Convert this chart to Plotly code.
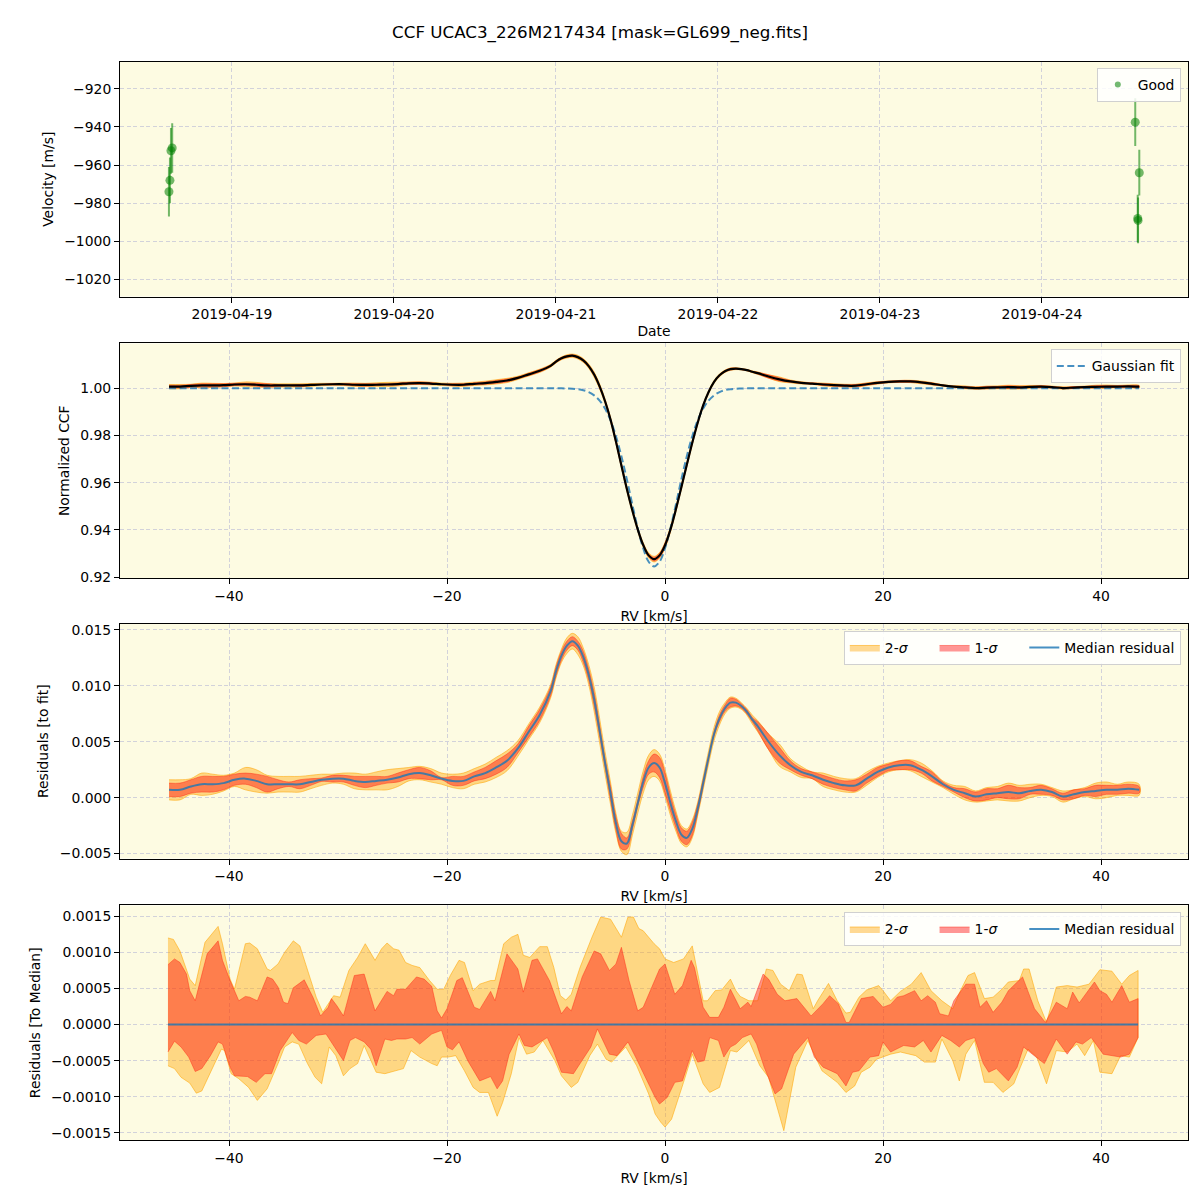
import plotly.graph_objects as go

# ---------------- Panel 1: RV time series ----------------
obs_time = ['2019-04-18 14:40', '2019-04-18 14:49', '2019-04-18 14:58', '2019-04-18 15:09',
            '2019-04-24 13:49', '2019-04-24 14:11', '2019-04-24 14:14', '2019-04-24 14:25']
obs_vel = [-974, -968, -952.5, -951, -937.5, -988, -989, -964]
obs_err = [13, 12, 12, 13, 12.5, 12.5, 12, 12]

# ---------------- Panels 2/3: CCF grid ----------------
rv = [-45.5, -44.5, -43.5, -42.5, -41.5, -40.5, -39.5, -38.5, -37.5, -36.5, -35.5, -34.5,
      -33.5, -32.5, -31.5, -30.5, -29.5, -28.5, -27.5, -26.5, -25.5, -24.5, -23.5, -22.5,
      -21.5, -20.5, -19.5, -18.5, -17.5, -16.5, -15.5, -14.5, -13.5, -12.5, -11.5, -10.5,
      -10.0, -9.5, -9.0, -8.5, -8.0, -7.5, -7.0, -6.5, -6.0, -5.5, -5.0, -4.5, -4.0, -3.5,
      -3.0, -2.5, -2.0, -1.5, -1.0, -0.5, 0.0, 0.5, 1.0, 1.5, 2.0, 2.5, 3.0, 3.5, 4.0, 4.5,
      5.0, 5.5, 6.0, 6.5, 7.0, 7.5, 8.0,
      8.5, 9.5, 10.5, 11.5, 12.5, 13.5, 14.5, 15.5, 16.5, 17.5, 18.5, 19.5, 20.5, 21.5, 22.5,
      23.5, 24.5, 25.5, 26.5, 27.5, 28.5, 29.5, 30.5, 31.5, 32.5, 33.5, 34.5, 35.5, 36.5,
      37.5, 38.5, 39.5, 40.5, 41.5, 42.5, 43.5]

gauss_fit = [1.0, 1.0, 1.0, 1.0, 1.0, 1.0, 1.0, 1.0, 1.0, 1.0, 1.0, 1.0,
             1.0, 1.0, 1.0, 1.0, 1.0, 1.0, 1.0, 1.0, 1.0, 1.0, 1.0, 1.0,
             1.0, 1.0, 1.0, 1.0, 1.0, 1.0, 1.0, 1.0, 1.0, 1.0, 1.0, 1.0,
             1.0000, 1.0000, 0.9999, 0.9998, 0.9996, 0.9992, 0.9984, 0.9970, 0.9948, 0.9914,
             0.9864, 0.9797, 0.9712, 0.9614, 0.9508, 0.9407, 0.9322, 0.9265, 0.9245, 0.9265,
             0.9322, 0.9407, 0.9508, 0.9614, 0.9712, 0.9797, 0.9864, 0.9914, 0.9948, 0.9970,
             0.9984, 0.9992, 0.9996, 0.9998, 0.9999, 1.0000, 1.0000,
             1.0, 1.0, 1.0, 1.0, 1.0, 1.0, 1.0, 1.0, 1.0, 1.0, 1.0, 1.0,
             1.0, 1.0, 1.0, 1.0, 1.0, 1.0, 1.0, 1.0, 1.0, 1.0, 1.0, 1.0,
             1.0, 1.0, 1.0, 1.0, 1.0, 1.0, 1.0, 1.0, 1.0, 1.0, 1.0, 1.0]

median_resid = [0.0007, 0.0007, 0.0010, 0.0012, 0.0012, 0.0013, 0.0016, 0.0017, 0.0015, 0.0012,
                0.0012, 0.0012, 0.0012, 0.0014, 0.0016, 0.0017, 0.0017, 0.0015, 0.0014, 0.0015,
                0.0016, 0.0018, 0.0021, 0.0022, 0.0020, 0.0017, 0.0015, 0.0015, 0.0019, 0.0022,
                0.0027, 0.0033, 0.0044, 0.0059, 0.0074, 0.0095,
                0.0113, 0.0127, 0.0136, 0.0140, 0.0136, 0.0126, 0.0110, 0.0088, 0.0060, 0.0031,
                0.0004, -0.0023, -0.0039, -0.0041, -0.0025, -0.0005, 0.0014, 0.0027, 0.0031, 0.0027,
                0.0013, -0.0005, -0.0021, -0.0033, -0.0036, -0.0028, -0.0010, 0.0013, 0.0036, 0.0057,
                0.0071, 0.0080, 0.0085, 0.0085, 0.0082, 0.0077, 0.0070,
                0.0064, 0.0050, 0.0038, 0.0029, 0.0023, 0.0020, 0.0016, 0.0013, 0.0011, 0.0011,
                0.0017, 0.0023, 0.0027, 0.0029, 0.0029, 0.0025, 0.0019, 0.0012, 0.0007, 0.0004,
                0.0001, 0.0003, 0.0004, 0.0005, 0.0004, 0.0006, 0.0007, 0.0005, 0.0001, 0.0003,
                0.0005, 0.0006, 0.0007, 0.0007, 0.0008, 0.0007]

# half widths of the 1-sigma / 2-sigma bands, in units of 1e-4
band1_e4 = [6, 6, 6, 7, 7, 6, 5, 5, 6, 7, 4, 2, 4, 3, 1.5, 3, 3, 4, 5, 4, 3, 4, 4, 5, 4, 1, 4, 4, 4, 5,
            6, 6, 4, 5, 5, 4,
            4, 4, 4, 4, 4, 5, 5, 6, 5, 4, 6, 6, 7, 5, 4, 3, 5, 6, 8, 9, 9, 7, 6, 6, 6, 6, 4, 3, 2, 2,
            3, 3, 4, 3, 2, 2, 2,
            4, 7, 7, 4, 3, 3, 4, 4, 4, 5, 4, 4, 3, 4, 4, 3, 4, 2, 2, 4, 4, 5, 4, 6, 5, 3, 4, 3, 3, 4,
            3, 5, 4, 4, 4, 3]
band2_e4 = [9, 9, 7, 10, 9, 7, 6, 10, 10, 8, 7, 7, 7, 6, 5, 4, 5, 7, 7, 8, 9, 8, 6, 6, 6, 5, 6, 7, 7, 8,
            9, 9, 7, 7, 7, 6,
            6, 6, 7, 7, 8, 8, 9, 11, 11, 10, 10, 9, 9, 10, 9, 9, 10, 11, 12, 12, 12, 11, 9, 8, 8, 8, 6, 6,
            6, 6, 6, 5, 5, 4, 3, 3, 4,
            5, 7, 10, 6, 5, 3, 6, 6, 6, 6, 6, 5, 4, 4, 5, 6, 5, 3, 4, 6, 5, 6, 6, 8, 7, 6, 5, 4, 5, 4,
            4, 7, 7, 5, 6, 5]

# ---------------- Panel 4: residuals to median (units of 1e-4) ----------------
up2_rv = [-45.6, -45.1, -44.5, -43.6, -43.1, -42.2, -41.0, -40.6, -39.9, -39.5, -38.5, -38.1, -37.4,
          -36.5, -36.2, -35.5, -34.9, -34.1, -33.5, -32.7, -32.0, -31.4, -30.4, -29.8, -29.0, -28.2,
          -27.5, -26.6, -26.0, -25.5, -24.9, -24.4, -23.8, -23.2, -22.5, -21.6, -20.9, -20.3, -19.7,
          -18.9, -18.4, -17.6, -17.0, -16.0, -15.6, -14.8, -14.1, -13.5, -13.0, -12.4, -11.5, -10.8,
          -10.2, -9.6, -9.1, -8.6, -7.8, -6.7, -5.9, -5.0, -4.0, -3.4, -2.9, -2.4, -2.0, -1.0, -0.5,
          0.0, 0.8, 1.7, 2.5, 3.5, 3.9, 4.6, 5.2, 6.0, 6.5, 6.9, 7.7, 8.5, 9.3, 9.9, 10.6, 11.4, 12.1,
          12.6, 13.6, 14.0, 15.0, 15.8, 16.6, 17.0, 17.8, 18.5, 19.6, 20.0, 20.7, 21.6, 22.6, 23.5,
          24.4, 25.4, 26.4, 27.1, 27.8, 28.4, 29.3, 30.1, 30.9, 31.5, 32.5, 32.9, 33.4, 34.2, 35.0,
          35.9, 36.9, 37.8, 38.9, 39.9, 41.0, 41.9, 42.6, 43.4]
up2_val = [12.0, 11.8, 10.2, 6.3, 5.4, 11.4, 13.6, 11.2, 6.3, 4.9, 11.2, 11.3, 10.5,
           7.7, 7.5, 8.4, 10.0, 11.6, 10.9, 7.2, 3.8, 1.7, 4.0, 3.8, 7.5, 9.3,
           11.2, 8.9, 10.5, 11.3, 10.5, 10.3, 8.6, 8.2, 7.9, 6.1, 4.9, 4.9, 6.8,
           8.9, 8.6, 4.7, 5.6, 6.1, 6.1, 11.2, 12.1, 12.5, 9.6, 9.3, 10.8, 10.8,
           7.9, 4.0, 3.4, 4.2, 7.9, 12.1, 14.9, 14.6, 12.1, 14.9, 14.9, 13.3, 13.0, 11.2, 10.5,
           9.1, 8.6, 9.1, 10.9, 3.3, 3.3, 4.7, 4.8, 6.3, 4.7, 3.9, 3.3, 3.3, 7.7, 7.5, 5.6, 4.7, 7.0,
           6.9, 2.2, 3.3, 5.7, 3.3, 1.6, 1.7, 3.8, 4.8, 5.4, 4.7, 3.3, 4.6, 5.6, 7.2,
           4.7, 3.3, 2.2, 4.7, 6.8, 7.2, 3.6, 3.8, 4.9, 5.9, 6.1, 7.7, 7.7, 3.3, 0.3,
           5.2, 5.4, 5.2, 5.6, 7.6, 7.4, 5.6, 6.8, 7.5]

up1_rv = [-45.6, -45.0, -44.5, -43.9, -43.6, -43.1, -42.6, -42.0, -41.0, -40.6, -39.9, -39.1, -38.5,
          -38.1, -37.4, -36.5, -36.0, -35.5, -35.0, -34.6, -34.1, -33.1, -32.3, -31.6, -30.9, -30.6,
          -30.1, -29.5, -28.5, -27.6, -26.6, -25.5, -24.9, -24.6, -23.8, -22.8, -22.1, -21.4, -20.9,
          -20.5, -20.0, -19.1, -18.6, -17.5, -17.0, -16.0, -15.6, -14.5, -13.5, -13.0, -12.2, -11.7,
          -10.6, -9.5, -9.0, -8.6, -7.6, -6.5, -5.9, -5.1, -4.5, -4.0, -3.3, -2.5, -2.0, -1.2, -0.5,
          0.0, 0.9, 1.6, 2.4, 2.7, 3.5, 4.1, 4.9, 5.4, 6.0, 6.9, 7.6, 7.9, 9.0, 9.5, 10.3, 11.0, 12.1,
          13.4, 14.5, 15.1, 15.9, 16.6, 16.9, 18.0, 19.1, 20.0, 20.7, 21.3, 21.9, 22.9, 23.5, 24.1,
          24.8, 25.2, 26.0, 26.5, 27.6, 28.4, 28.9, 29.5, 30.1, 30.9, 31.5, 32.8, 33.9, 34.9, 35.9,
          36.9, 37.4, 38.0, 39.4, 39.9, 40.5, 41.0, 41.9, 42.6, 43.4]
up1_val = [8.3, 9.1, 8.6, 7.0, 4.7, 3.3, 6.3, 9.8, 11.6, 8.9, 6.1, 3.3, 3.9,
           3.8, 3.3, 6.6, 6.3, 5.2, 3.1, 2.9, 5.1, 6.2, 3.8, 1.2, 2.4, 3.6,
           2.6, 1.2, 6.8, 7.0, 1.9, 4.6, 4.0, 4.9, 4.9, 6.6, 6.3, 5.3, 1.9,
           0.9, 2.2, 6.1, 6.5, 2.4, 2.1, 4.6, 3.3, 9.8, 7.7, 4.5, 8.9, 9.1,
           6.1, 1.5, 2.5, 1.9, 6.6, 10.2, 9.8, 7.5, 8.4, 10.7, 6.1, 1.9, 2.4, 5.2, 7.7,
           8.4, 4.2, 5.4, 8.9, 7.9, 2.4, 1.0, 1.0, 2.4, 4.9, 2.2, 3.1, 2.5, 7.0, 6.3, 4.2, 3.3, 3.6,
           1.2, 2.9, 4.0, 2.9, 0.3, 0.3, 3.6, 3.9, 2.4, 2.8, 3.8, 4.0, 4.7, 3.3, 4.0,
           3.1, 1.5, 1.2, 3.3, 5.6, 5.6, 2.4, 3.3, 1.7, 3.1, 4.7, 6.6, 2.2, 0.3, 3.1,
           2.2, 4.5, 3.0, 5.9, 4.7, 4.2, 3.1, 5.4, 3.1, 3.6]

lo1_rv = [-45.6, -45.0, -44.4, -43.7, -43.1, -42.5, -41.7, -41.0, -40.6, -39.9, -39.5, -38.3, -37.5,
          -36.7, -36.1, -35.3, -34.2, -33.6, -32.9, -32.0, -31.1, -30.3, -29.5, -28.9, -28.4, -27.6,
          -27.0, -26.5, -25.7, -25.1, -24.6, -23.8, -23.2, -22.5, -21.4, -20.5, -20.0, -19.5, -18.9,
          -18.1, -17.0, -16.0, -15.4, -14.9, -14.3, -13.4, -12.9, -12.2, -10.8, -10.2, -9.5, -8.4,
          -7.7, -6.8, -6.2, -5.5, -5.1, -4.4, -3.4, -2.6, -1.7, -0.9, -0.5, 0.2, 0.9, 1.6, 2.5, 3.0,
          3.6, 4.1, 4.9, 5.4, 6.0, 6.5, 7.1, 7.9, 8.4, 9.1, 10.1, 10.7, 11.8, 12.6, 13.1, 13.7, 14.5,
          15.8, 16.6, 17.2, 17.8, 18.8, 19.6, 20.0, 20.7, 21.9, 22.9, 23.7, 24.4, 25.4, 26.2, 27.0,
          27.6, 28.4, 29.2, 29.7, 30.4, 31.5, 32.3, 32.9, 33.7, 34.8, 35.9, 36.9, 37.7, 38.3, 39.1,
          40.2, 41.0, 41.8, 42.6, 43.4]
lo1_val = [-3.8, -2.3, -3.1, -4.5, -6.5, -6.1, -4.3, -2.4, -2.7, -5.9, -7.1, -7.2, -8.0,
           -6.8, -6.8, -3.6, -1.1, -2.2, -2.7, -1.5, -1.3, -3.1, -5.0, -2.2, -1.8, -2.4,
           -3.4, -5.7, -2.0, -2.2, -2.0, -2.0, -1.8, -2.7, -1.3, -0.8, -3.1, -3.5, -2.4,
           -5.0, -7.8, -7.2, -8.9, -7.8, -4.1, -1.3, -2.9, -3.1, -1.8, -3.8, -6.6, -6.8,
           -5.2, -3.1, -0.6, -2.9, -4.1, -4.3, -2.4, -4.8, -7.5, -10.1, -11.0, -10.1, -8.0, -7.8, -3.6, -5.2,
           -5.0, -1.8, -2.2, -4.5, -3.1, -2.7, -1.8, -1.3, -2.7, -5.9, -9.6, -8.9, -4.1, -2.7, -1.8, -4.5, -5.9,
           -6.8, -8.5, -6.6, -6.4, -4.5, -4.3, -2.4, -3.8, -2.9, -3.1, -2.2, -3.8, -1.5, -2.2, -3.1,
           -2.2, -1.8, -5.4, -6.6, -6.1, -7.8, -5.9, -3.1, -4.1, -5.4, -2.0, -4.1, -2.4, -2.7, -1.8,
           -4.1, -4.3, -4.5, -4.1, -1.8]

lo2_rv = [-45.6, -45.0, -44.4, -43.6, -43.0, -42.5, -41.5, -40.7, -40.4, -39.8, -39.1, -38.2, -37.4,
          -36.5, -35.5, -34.9, -34.2, -33.6, -32.8, -32.1, -31.5, -30.8, -30.2, -29.5, -28.9, -28.2,
          -27.6, -26.5, -25.7, -24.0, -23.3, -22.5, -21.4, -20.9, -20.5, -19.9, -19.2, -18.4, -17.6,
          -17.0, -16.2, -15.4, -14.9, -14.1, -13.4, -12.7, -12.0, -11.2, -10.1, -9.5, -8.6, -8.0,
          -6.9, -6.2, -5.4, -4.9, -3.6, -2.6, -1.5, -0.9, -0.4, 0.0, 0.6, 1.7, 2.5, 3.5, 4.1, 5.0,
          6.0, 6.6, 7.7, 8.7, 9.5, 10.3, 10.9, 12.0, 13.1, 14.4, 15.8, 16.6, 17.4, 18.0, 18.8, 19.4,
          20.7, 21.6, 23.0, 23.8, 24.8, 25.4, 26.4, 27.0, 27.6, 28.4, 29.3, 30.1, 31.0, 32.0, 32.6,
          33.3, 34.1, 35.0, 35.9, 36.9, 37.8, 38.5, 39.3, 39.9, 41.0, 41.8, 42.6, 43.4]
lo2_val = [-5.7, -6.1, -7.3, -8.1, -9.5, -9.2, -5.9, -3.4, -3.6, -6.8, -7.5, -8.7, -10.5,
           -8.9, -5.4, -3.1, -2.4, -2.7, -5.4, -7.3, -8.2, -3.1, -4.3, -7.1, -6.1, -5.4,
           -2.9, -6.6, -6.8, -6.1, -3.6, -4.5, -5.4, -5.7, -4.5, -4.5, -4.3, -6.4, -8.7,
           -9.4, -9.4, -12.7, -10.8, -6.8, -1.8, -4.1, -3.8, -2.2, -5.0, -7.1, -8.7, -8.0,
           -4.3, -2.7, -4.8, -5.2, -3.1, -5.7, -9.6, -12.4, -13.5, -14.2, -13.1, -8.0, -4.1, -8.2, -9.4, -8.7,
           -3.6, -3.8, -2.2, -5.7, -7.3, -11.4, -14.7, -5.9, -2.2, -6.4, -8.0, -9.4, -8.5, -6.6, -5.9, -4.8,
           -4.1, -3.8, -4.3, -5.2, -5.2, -2.0, -5.0, -7.8, -4.1, -2.2, -8.0, -8.0, -9.4, -8.2, -5.9,
           -3.4, -4.5, -8.2, -3.6, -3.8, -2.7, -4.3, -2.2, -6.6, -6.8, -4.3, -4.5, -1.8]

TITLE = "CCF UCAC3_226M217434 [mask=GL699_neg.fits]"

# ---------------- derived series ----------------
E4 = 1e-4
ccf = [f + m for f, m in zip(gauss_fit, median_resid)]
b1 = [v * E4 for v in band1_e4]
b2 = [v * E4 for v in band2_e4]


def band(xs, lo, hi):
    return list(xs) + list(xs)[::-1], list(hi) + list(lo)[::-1]


C2_FILL = "rgba(255,165,0,0.42)"
C2_LINE = "rgba(255,165,0,0.55)"
C1_FILL = "rgba(255,0,0,0.41)"
C1_LINE = "rgba(255,40,20,0.45)"
BLUE = "rgba(31,119,180,0.82)"
GREEN = "rgba(0,128,0,0.55)"
FONT = "DejaVu Sans, Arial, sans-serif"
FS = 13.9
NB = "\u00a0" * 5
LBL2 = "2-<i>σ</i>" + NB
LBL1 = "1-<i>σ</i>" + NB

fig = go.Figure()

# Panel 1
fig.add_trace(go.Scatter(
    x=obs_time, y=obs_vel, mode="markers", showlegend=False,
    marker=dict(color=GREEN, size=9, line=dict(width=0)),
    error_y=dict(type="data", array=obs_err, color=GREEN, thickness=2, width=0),
    xaxis="x", yaxis="y"))
fig.add_trace(go.Scatter(
    x=[None], y=[None], mode="markers", name="Good", legend="legend",
    marker=dict(color=GREEN, size=6, line=dict(width=0)), xaxis="x", yaxis="y"))

# Panel 2
bx, by = band(rv, [c - s for c, s in zip(ccf, b2)], [c + s for c, s in zip(ccf, b2)])
fig.add_trace(go.Scatter(x=bx, y=by, fill="toself", fillcolor=C2_FILL, mode="lines",
                         line=dict(color=C2_LINE, width=1, shape="spline"), showlegend=False,
                         xaxis="x2", yaxis="y2", hoverinfo="skip"))
bx, by = band(rv, [c - s for c, s in zip(ccf, b1)], [c + s for c, s in zip(ccf, b1)])
fig.add_trace(go.Scatter(x=bx, y=by, fill="toself", fillcolor=C1_FILL, mode="lines",
                         line=dict(color=C1_LINE, width=1, shape="spline"), showlegend=False,
                         xaxis="x2", yaxis="y2", hoverinfo="skip"))
fig.add_trace(go.Scatter(x=rv, y=gauss_fit, mode="lines", name="Gaussian fit", legend="legend2",
                         line=dict(color=BLUE, width=2, dash="7px,3.5px", shape="spline"),
                         xaxis="x2", yaxis="y2"))
fig.add_trace(go.Scatter(x=rv, y=ccf, mode="lines", showlegend=False,
                         line=dict(color="black", width=2.2, shape="spline"),
                         xaxis="x2", yaxis="y2"))

# Panel 3
bx, by = band(rv, [m - s for m, s in zip(median_resid, b2)], [m + s for m, s in zip(median_resid, b2)])
fig.add_trace(go.Scatter(x=bx, y=by, fill="toself", fillcolor=C2_FILL, mode="lines", name=LBL2,
                         line=dict(color=C2_LINE, width=1, shape="spline"), legend="legend3",
                         xaxis="x3", yaxis="y3", hoverinfo="skip"))
bx, by = band(rv, [m - s for m, s in zip(median_resid, b1)], [m + s for m, s in zip(median_resid, b1)])
fig.add_trace(go.Scatter(x=bx, y=by, fill="toself", fillcolor=C1_FILL, mode="lines", name=LBL1,
                         line=dict(color=C1_LINE, width=1, shape="spline"), legend="legend3",
                         xaxis="x3", yaxis="y3", hoverinfo="skip"))
fig.add_trace(go.Scatter(x=rv, y=median_resid, mode="lines", name="Median residual", legend="legend3",
                         line=dict(color=BLUE, width=2, shape="spline"), xaxis="x3", yaxis="y3"))

# Panel 4
bx = up2_rv + lo2_rv[::-1]
by = [v * E4 for v in up2_val] + [v * E4 for v in lo2_val][::-1]
fig.add_trace(go.Scatter(x=bx, y=by, fill="toself", fillcolor=C2_FILL, mode="lines", name=LBL2,
                         line=dict(color=C2_LINE, width=1), legend="legend4",
                         xaxis="x4", yaxis="y4", hoverinfo="skip"))
bx = up1_rv + lo1_rv[::-1]
by = [v * E4 for v in up1_val] + [v * E4 for v in lo1_val][::-1]
fig.add_trace(go.Scatter(x=bx, y=by, fill="toself", fillcolor=C1_FILL, mode="lines", name=LBL1,
                         line=dict(color=C1_LINE, width=1), legend="legend4",
                         xaxis="x4", yaxis="y4", hoverinfo="skip"))
flat = [m - m for m in median_resid]
fig.add_trace(go.Scatter(x=[rv[0] - 0.1] + rv[1:-1] + [rv[-1] - 0.1], y=flat, mode="lines",
                         name="Median residual", legend="legend4",
                         line=dict(color=BLUE, width=2), xaxis="x4", yaxis="y4"))

axis_common = dict(showline=True, linecolor="black", linewidth=1, mirror=True,
                   ticks="outside", ticklen=5, tickwidth=1, tickcolor="black",
                   showgrid=True, gridcolor="#d2d2da", griddash="4px,2.5px", gridwidth=1,
                   zeroline=False, tickfont=dict(size=FS, color="black", family=FONT),
                   title_font=dict(size=FS, color="black", family=FONT))

# vertical placement (pixel rows from the top, over the rendered height)
H = 1193.0


def dom(top, bottom):
    return [1 - bottom / H, 1 - top / H]


XD = [0.1, 0.99]
D1 = dom(60, 295)
D2 = dom(342, 577)
D3 = dom(623, 858)
D4 = dom(905, 1140)
RVR = [-50.0, 47.98]

legend_common = dict(bgcolor="rgba(255,255,255,0.85)", bordercolor="#d0d0d0", borderwidth=1,
                     font=dict(size=FS, color="black", family=FONT), xanchor="right", yanchor="top",
                     x=0.984)

fig.update_layout(
    width=1200, height=1200, margin=dict(l=0, r=0, t=0, b=0),
    paper_bgcolor="white", plot_bgcolor="#fdfbe2",
    font=dict(family=FONT, size=FS, color="black"),
    title=dict(text=TITLE, x=0.5, xanchor="center", y=1 - 32 / H, yanchor="middle",
               font=dict(size=16.7, color="black", family=FONT)),
    xaxis=dict(axis_common, domain=XD, anchor="y", type="date",
               range=["2019-04-18 07:25", "2019-04-24 21:38"],
               tick0="2019-04-19", dtick=86400000, tickformat="%Y-%m-%d",
               title=dict(text="Date", standoff=5)),
    yaxis=dict(axis_common, domain=D1, anchor="x", range=[-1028.9, -905.9], dtick=20, tick0=0,
               title=dict(text="Velocity [m/s]", standoff=7)),
    xaxis2=dict(axis_common, domain=XD, anchor="y2", range=RVR, dtick=20, tick0=0,
                title=dict(text="RV [km/s]", standoff=8)),
    yaxis2=dict(axis_common, domain=D2, anchor="x2", range=[0.9196, 1.019], dtick=0.02, tick0=0,
                tickformat=".2f", title=dict(text="Normalized CCF", standoff=7)),
    xaxis3=dict(axis_common, domain=XD, anchor="y3", range=RVR, dtick=20, tick0=0,
                title=dict(text="RV [km/s]", standoff=8)),
    yaxis3=dict(axis_common, domain=D3, anchor="x3", range=[-0.00545, 0.01554], dtick=0.005, tick0=0,
                tickformat=".3f", title=dict(text="Residuals [to fit]", standoff=7)),
    xaxis4=dict(axis_common, domain=XD, anchor="y4", range=RVR, dtick=20, tick0=0,
                title=dict(text="RV [km/s]", standoff=8)),
    yaxis4=dict(axis_common, domain=D4, anchor="x4", range=[-0.0016, 0.00165], dtick=0.0005, tick0=0,
                tickformat=".4f", title=dict(text="Residuals [To Median]", standoff=7)),
    legend=dict(legend_common, y=1 - 66 / H),
    legend2=dict(legend_common, y=1 - 348 / H),
    legend3=dict(legend_common, y=1 - 630 / H, orientation="h"),
    legend4=dict(legend_common, y=1 - 912 / H, orientation="h"),
    showlegend=True,
)

fig.write_html("out.html")
